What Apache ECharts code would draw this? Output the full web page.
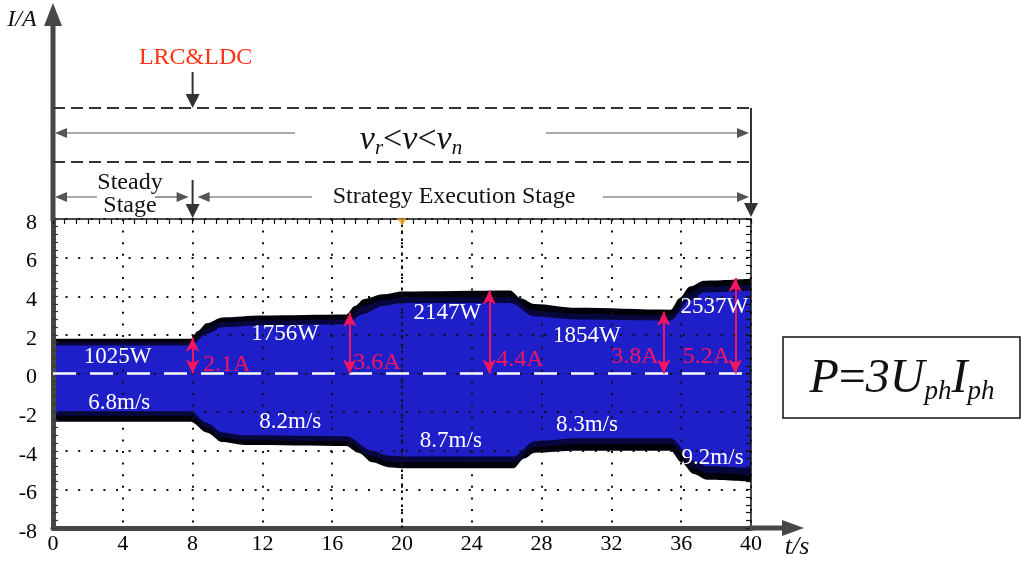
<!DOCTYPE html>
<html><head><meta charset="utf-8">
<script src="https://cdn.jsdelivr.net/npm/echarts@6/dist/echarts.min.js"></script>
<style>html,body{margin:0;padding:0;background:#fff}#c{width:1024px;height:562px}</style>
</head><body><div id="c"></div>
<script>
// ---------- data ----------
const xTicks = [0, 4, 8, 12, 16, 20, 24, 28, 32, 36, 40];
const yTicks = [-8, -6, -4, -2, 0, 2, 4, 6, 8];
// outer (black) envelope of the phase current, [t (s), I (A)]
const outerTop = [[0,1.8],[7.9,1.8],[8.3,2.2],[8.8,2.6],[9.7,2.9],[12,3.0],[16.8,3.05],[17.3,3.5],[17.8,3.85],[18.9,4.1],[20,4.25],[26.2,4.3],[26.8,3.9],[27.6,3.6],[30,3.4],[35.4,3.3],[35.9,3.9],[36.5,4.5],[37.3,4.8],[40,4.9]];
const outerBottom = [[0,-2.5],[7.9,-2.5],[8.8,-3.05],[9.7,-3.55],[11,-3.7],[16.8,-3.75],[17.5,-4.1],[18.3,-4.6],[19.2,-4.85],[20,-4.9],[26.4,-4.9],[27,-4.4],[27.6,-4.1],[30,-4.0],[35.4,-4.0],[36,-4.6],[36.7,-5.2],[37.5,-5.5],[40,-5.6]];
// dark transition band
const midTop = [[0,1.6],[7.9,1.6],[8.8,2.3],[9.7,2.65],[12,2.75],[16.8,2.8],[17.8,3.5],[18.9,3.8],[20,3.95],[26.2,3.95],[27.6,3.25],[30,3.1],[35.4,3.0],[36.5,4.15],[37.3,4.5],[40,4.6]];
const midBottom = [[0,-2.2],[7.9,-2.2],[8.8,-2.8],[9.7,-3.3],[11,-3.45],[16.8,-3.5],[18.3,-4.3],[19.2,-4.55],[20,-4.6],[26.4,-4.6],[27.6,-3.8],[30,-3.65],[35.4,-3.65],[36.7,-4.85],[37.5,-5.15],[40,-5.25]];
// inner (blue) core of the waveform
const innerTop = [[0,1.45],[7.9,1.45],[8.8,2.05],[9.7,2.4],[12,2.5],[16.8,2.55],[17.8,3.1],[18.9,3.5],[20,3.65],[26.2,3.65],[27.6,2.95],[30,2.8],[35.4,2.75],[36.5,3.8],[37.3,4.2],[40,4.3]];
const innerBottom = [[0,-1.95],[7.9,-1.95],[8.8,-2.55],[9.7,-3.05],[11,-3.2],[16.8,-3.25],[18.3,-4.0],[19.2,-4.25],[20,-4.3],[26.4,-4.3],[27.6,-3.5],[30,-3.35],[35.4,-3.35],[36.7,-4.5],[37.5,-4.8],[40,-4.9]];
const zeroLine = [[0,0],[40,0]];
const centreLine = [[20,-8],[20,8]];
const triggerMark = [[20,8]];
// amplitude arrows
const stepT = [8, 17, 25, 35, 39.1];
const stepI = [1.85, 3.15, 4.3, 3.2, 4.95];
const stepLabels = ['2.1A', '3.6A', '4.4A', '3.8A', '5.2A'];
const powerLabels = ['1025W', '1756W', '2147W', '1854W', '2537W'];
const windLabels = ['6.8m/s', '8.2m/s', '8.7m/s', '8.3m/s', '9.2m/s'];

// ---------- annotation layout (data coords) ----------
const powerPos = [[3.7,0.85],[13.3,2.05],[22.6,3.15],[30.6,1.95],[37.9,3.45]];
const windPos = [[3.8,-1.5],[13.6,-2.5],[22.8,-3.5],[30.6,-2.65],[37.8,-4.35]];
const stepPos = [[8.6,0.45,'left'],[17.2,0.55,'left'],[25.4,0.72,'left'],[34.7,0.85,'right'],[38.8,0.85,'right']];

const FONT = '"Liberation Serif","Times New Roman",serif';
const AX = '#474747';
const PINK = '#f5145f';
const chart = echarts.init(document.getElementById('c'));

function area(name, data, color) {
  return {type:'line', name, data, symbol:'none', smooth:0.3, smoothMonotone:'x', z:2, silent:true,
    lineStyle:{width:0}, areaStyle:{color, opacity:1, origin:'auto'}};
}

const option = {
  animation:false,
  backgroundColor:'#fff',
  grid:{left:53, right:273, top:219, bottom:34},
  xAxis:[
    {type:'value', min:0, max:40, interval:4, position:'bottom', z:3,
      axisLine:{show:true, onZero:false, lineStyle:{color:AX, width:5}},
      axisTick:{show:false},
      axisLabel:{color:'#000', fontFamily:FONT, fontSize:22, margin:5,
        formatter:v => xTicks.includes(v) ? String(v) : ''},
      splitLine:{show:true, lineStyle:{color:'#111', width:2, type:[2,9.6]}}},
    {type:'value', min:0, max:40, interval:4, position:'top', z:3,
      axisLine:{show:true, onZero:false, lineStyle:{color:'#111', width:1.5}},
      axisTick:{show:true, inside:true, length:5, lineStyle:{color:'#111', width:1.2}},
      minorTick:{show:true, splitNumber:6, length:5, lineStyle:{color:'#111', width:1.2}},
      axisLabel:{show:false}, splitLine:{show:false}}
  ],
  yAxis:[
    {type:'value', min:-8, max:8, interval:2, position:'left', z:3,
      axisLine:{show:true, onZero:false, lineStyle:{color:AX, width:5}},
      axisTick:{show:true, inside:true, length:5, lineStyle:{color:'#333', width:1.2}},
      minorTick:{show:true, splitNumber:5, length:5, lineStyle:{color:'#333', width:1.2}},
      axisLabel:{color:'#000', fontFamily:FONT, fontSize:22, margin:16,
        verticalAlign:'top', lineHeight:8,
        formatter:v => yTicks.includes(v) ? String(v) : ''},
      splitLine:{show:true, lineStyle:{color:'#111', width:2, type:[2,10.6]}}},
    {type:'value', min:-8, max:8, interval:2, position:'right', z:3,
      axisLine:{show:true, onZero:false, lineStyle:{color:'#111', width:1.5}},
      axisTick:{show:true, inside:true, length:5, lineStyle:{color:'#111', width:1.2}},
      minorTick:{show:true, splitNumber:5, length:5, lineStyle:{color:'#111', width:1.2}},
      axisLabel:{show:false}, splitLine:{show:false}}
  ],
  series:[
    area('outerTop', outerTop, '#02020a'),
    area('outerBottom', outerBottom, '#02020a'),
    area('midTop', midTop, '#07073e'),
    area('midBottom', midBottom, '#07073e'),
    area('innerTop', innerTop, '#1f1fca'),
    area('innerBottom', innerBottom, '#1f1fca'),
    {type:'line', name:'centre', data:centreLine, symbol:'none', z:3, silent:true,
      lineStyle:{color:'#111', width:2, type:[2.5,4.5]}},
    {type:'line', name:'zero', data:zeroLine, symbol:'none', z:4, silent:true,
      lineStyle:{color:'#fff', width:2.5, type:[23,14]},
      markLine:{silent:true, symbol:['arrow','arrow'], symbolSize:[10,14], label:{show:false},
        lineStyle:{color:PINK, width:2, type:'solid'},
        data: stepT.map((t,i) => [{coord:[t,0]}, {coord:[t, stepI[i]]}])}},
    {type:'scatter', name:'trigger', data:triggerMark, symbol:'triangle', symbolRotate:180,
      symbolSize:[10,7], symbolOffset:[0,3], itemStyle:{color:'#f2a41c'}, z:6, silent:true}
  ]
};
chart.setOption(option);

// ---------- annotations ----------
const P = (t,v) => chart.convertToPixel({xAxisIndex:0, yAxisIndex:0}, [t,v]);
const G = [];
function head(tx, ty, dir, len, half, color) {
  let pts;
  if (dir === 'left') pts = [[tx,ty],[tx+len,ty-half],[tx+len,ty+half]];
  else if (dir === 'right') pts = [[tx,ty],[tx-len,ty-half],[tx-len,ty+half]];
  else if (dir === 'down') pts = [[tx,ty],[tx-half,ty-len],[tx+half,ty-len]];
  else pts = [[tx,ty],[tx-half,ty+len],[tx+half,ty+len]];
  G.push({type:'polygon', shape:{points:pts}, style:{fill:color}, z:20});
}
function seg(x1, y1, x2, y2, w, color, dash) {
  G.push({type:'line', shape:{x1,y1,x2,y2}, style:{stroke:color, lineWidth:w, lineDash:dash || null}, z:20});
}
function txt(x, y, text, font, color, align) {
  G.push({type:'text', x, y, style:{text, font, fill:color, align:align || 'center', verticalAlign:'middle'}, z:20});
}
const [x0, yB] = P(0, -8);
const yT = P(0, 8)[1];
const x40 = P(40, 0)[0];
const x8 = P(8, 0)[0];

// axis extensions with arrows
seg(x0, yT + 2, x0, 26, 5, AX);
head(x0, 3, 'up', 23, 9, AX);
seg(x40 - 2, yB, 784, yB, 5, AX);
head(804, yB, 'right', 22, 8, AX);

// upper annotation frame
seg(x0, 108, x40, 108, 2, '#333', [12, 6]);
seg(x0, 162, x40, 162, 2, '#333', [12, 6]);
seg(x40, 108, x40, 205, 2, '#333');
head(x40, 217, 'down', 14, 7, '#333');
seg(x8, 72, x8, 97, 2, '#333');
head(x8, 108, 'down', 14, 7, '#333');
seg(x8, 180, x8, 205, 2, '#333');
head(x8, 218, 'down', 14, 7, '#333');
// thin range arrows
const TH = '#555';
seg(x0 + 10, 133, 295, 133, 1.2, TH); head(x0 + 2, 133, 'left', 12, 5, TH);
seg(546, 133, x40 - 12, 133, 1.2, TH); head(x40 - 2, 133, 'right', 12, 5, TH);
seg(x0 + 10, 197, 97, 197, 1.2, TH); head(x0 + 2, 197, 'left', 12, 5, TH);
seg(155, 197, x8 - 14, 197, 1.2, TH); head(x8 - 4, 197, 'right', 12, 5, TH);
seg(x8 + 16, 197, 312, 197, 1.2, TH); head(x8 + 5, 197, 'left', 12, 5, TH);
seg(603, 197, x40 - 12, 197, 1.2, TH); head(x40 - 2, 197, 'right', 12, 5, TH);

txt(x8 + 3, 58, 'LRC&LDC', '24px ' + FONT, '#ff3314');
txt(130, 183, 'Steady', '24px ' + FONT, '#111');
txt(130, 206, 'Stage', '24px ' + FONT, '#111');
txt(454, 197, 'Strategy Execution Stage', '24px ' + FONT, '#111');
txt(22, 20, 'I/A', 'italic 24px ' + FONT, '#111');
txt(797, 547, 't/s', 'italic 26px ' + FONT, '#111');

G.push({type:'text', x:411, y:140, z:20, style:{
  text:'{v|v}{s|r}{o|<}{v|v}{o|<}{v|v}{s|n}', align:'center', verticalAlign:'middle',
  rich:{
    v:{font:'italic 34px ' + FONT, fill:'#111', lineHeight:38, verticalAlign:'middle'},
    o:{font:'34px ' + FONT, fill:'#111', lineHeight:38, verticalAlign:'middle'},
    s:{font:'italic 21px ' + FONT, fill:'#111', lineHeight:12, verticalAlign:'bottom'}
  }}});

// formula box
G.push({type:'rect', shape:{x:783, y:337, width:237, height:81}, style:{fill:'#fff', stroke:'#111', lineWidth:1.5}, z:20});
G.push({type:'text', x:902, y:379, z:21, style:{
  text:'{i|P}{n|=}{i|3U}{s|ph}{i|I}{s|ph}', align:'center', verticalAlign:'middle',
  rich:{
    i:{font:'italic 48px ' + FONT, fill:'#111', lineHeight:52, verticalAlign:'middle'},
    n:{font:'48px ' + FONT, fill:'#111', lineHeight:52, verticalAlign:'middle'},
    s:{font:'italic 27px ' + FONT, fill:'#111', lineHeight:16, verticalAlign:'bottom'}
  }}});

// in-plot labels
powerLabels.forEach((s, i) => { const p = P(powerPos[i][0], powerPos[i][1]); txt(p[0], p[1], s, '23px ' + FONT, '#fff'); });
windLabels.forEach((s, i) => { const p = P(windPos[i][0], windPos[i][1]); txt(p[0], p[1], s, '23px ' + FONT, '#fff'); });
stepLabels.forEach((s, i) => { const p = P(stepPos[i][0], stepPos[i][1]); txt(p[0], p[1], s, '24px ' + FONT, PINK, stepPos[i][2]); });

chart.setOption({graphic:{elements:G}});
</script></body></html>
